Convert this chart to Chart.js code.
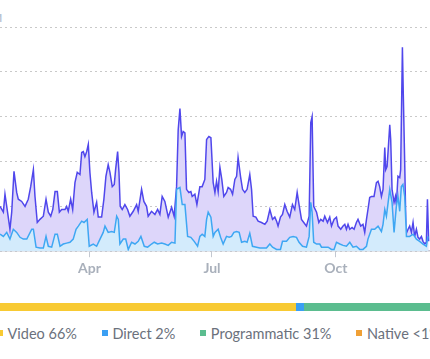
<!DOCTYPE html>
<html>
<head>
<meta charset="utf-8">
<script src="https://cdn.jsdelivr.net/npm/chart.js@4.4.1/dist/chart.umd.min.js"></script>
<style>
  html, body { margin: 0; padding: 0; background: #fff; overflow: hidden; }
  body { width: 430px; height: 359px; position: relative; font-family: Lato, "Open Sans", sans-serif; }
  #lineWrap { position: absolute; left: 0; top: 0; width: 430px; height: 280px; }
  #barWrap { position: absolute; left: -33px; top: 303px; width: 497px; height: 8px; }
  #legend { position: absolute; left: -3px; top: 324px; width: 600px; height: 18px;
            display: flex; justify-content: flex-start; align-items: center; }
  .item { display: flex; align-items: center; margin-right: 25px; font-size: 14.5px; color: #6b717c; white-space: nowrap; }
  .sw { width: 6px; height: 6px; margin-right: 4.5px; }
  #corner { position: absolute; left: -9px; top: 10px; font: bold 12px Lato, sans-serif; color: #b9c3d3; }
</style>
</head>
<body>
<div id="corner">M</div>
<div id="lineWrap"><canvas id="lineChart"></canvas></div>
<div id="barWrap"><canvas id="shareChart"></canvas></div>
<div id="legend"></div>
<script>
// day of year for each reading, and the value read at it
const totalDays = [
  23.5, 26.0, 27.2, 28.5, 30.9, 32.2, 33.9, 35.9, 37.1, 39.6,
  42.1, 44.5, 46.3, 48.3, 49.5, 51.2, 53.2, 55.7, 57.7, 59.4,
  61.2, 62.7, 64.4, 66.1, 67.6, 69.3, 71.8, 73.0, 74.2, 76.0,
  77.5, 79.2, 80.9, 82.9, 84.2, 85.4, 86.6, 87.9, 89.1, 90.3,
  91.6, 93.3, 95.3, 96.5, 99.0, 100.7, 102.2, 103.9, 105.2, 106.9,
  108.4, 109.4, 110.9, 111.9, 112.8, 114.3, 116.3, 118.3, 120.0, 122.5,
  125.0, 126.2, 128.7, 130.4, 132.4, 133.6, 136.1, 138.6, 140.6, 142.3,
  144.0, 146.0, 148.5, 151.0, 152.9, 154.7, 155.9, 157.2, 158.4, 159.6,
  160.9, 162.1, 163.8, 165.3, 166.3, 168.3, 169.8, 172.0, 173.7, 175.7,
  177.0, 178.7, 180.2, 181.9, 183.2, 184.4, 185.6, 186.9, 188.3, 189.8,
  191.8, 193.0, 194.8, 196.3, 198.0, 199.3, 200.4, 202.2, 203.7, 205.4,
  207.1, 209.1, 210.4, 211.6, 213.6, 215.3, 217.8, 220.3, 222.0, 224.0,
  226.0, 227.7, 229.0, 230.1, 231.9, 233.4, 235.1, 236.8, 238.8, 240.8,
  242.5, 244.3, 245.7, 247.5, 249.2, 251.2, 253.2, 254.4, 255.4, 256.6,
  258.7, 260.4, 261.8, 263.6, 264.8, 266.8, 268.5, 269.8, 271.7, 273.5,
  274.7, 276.7, 278.4, 279.7, 280.9, 282.1, 283.4, 285.1, 286.6, 288.3,
  289.5, 291.5, 293.2, 294.5, 295.8, 296.9, 298.2, 299.5, 301.4, 303.2,
  304.4, 305.6, 306.9, 308.1, 309.4, 310.1, 311.1, 311.8, 313.1, 313.8,
  314.8, 316.3, 317.3, 318.0, 319.2, 320.5, 321.2, 322.5, 323.2, 324.2,
  325.2, 326.7, 327.9, 329.2, 330.4, 331.6, 332.9, 334.1, 335.3, 336.6,
  337.8, 339.1, 340.3, 341.1, 342.0
];
const totalValues = [
  100, 87, 127, 100, 49, 87, 178, 131, 116, 111,
  100, 116, 144, 182, 122, 64, 71, 78, 116, 87,
  78, 93, 133, 133, 87, 93, 93, 100, 89, 116,
  93, 153, 176, 171, 220, 222, 211, 222, 238, 176,
  131, 87, 109, 76, 76, 116, 167, 193, 176, 144,
  149, 182, 222, 176, 100, 93, 104, 93, 78, 89,
  104, 89, 138, 111, 100, 78, 89, 82, 93, 82,
  122, 111, 76, 98, 78, 144, 271, 318, 256, 267,
  264, 138, 131, 133, 122, 127, 104, 144, 144, 160,
  249, 256, 253, 153, 131, 156, 133, 187, 160, 122,
  131, 142, 138, 127, 160, 167, 209, 167, 138, 131,
  138, 171, 138, 78, 76, 67, 64, 60, 67, 93,
  71, 76, 67, 56, 76, 82, 104, 89, 76, 104,
  93, 131, 104, 71, 64, 56, 78, 287, 300, 100,
  87, 64, 71, 67, 78, 64, 76, 56, 71, 76,
  56, 49, 56, 60, 49, 60, 49, 53, 49, 64,
  71, 56, 60, 42, 71, 93, 120, 122, 122, 153,
  156, 144, 122, 138, 231, 182, 189, 220, 282, 249,
  138, 109, 122, 104, 167, 164, 182, 455, 344, 198,
  38, 49, 56, 42, 64, 33, 49, 31, 27, 33,
  22, 16, 20, 116, 22
];
const directDays = [
  23.5, 26.0, 28.5, 30.9, 33.4, 35.9, 38.4, 40.8, 43.4, 47.1,
  48.3, 50.3, 53.2, 55.7, 57.7, 59.4, 61.9, 64.4, 66.1, 68.1,
  70.5, 73.0, 75.5, 77.9, 80.0, 81.7, 84.2, 85.9, 88.3, 89.8,
  92.8, 95.3, 97.8, 100.2, 101.5, 103.9, 106.5, 108.4, 110.2, 111.4,
  112.6, 115.1, 116.9, 118.8, 121.3, 123.8, 126.2, 128.2, 130.7, 133.2,
  136.1, 138.1, 140.6, 143.6, 146.0, 148.5, 151.0, 153.5, 154.7, 157.2,
  158.9, 160.9, 162.9, 165.3, 167.8, 170.3, 172.0, 173.7, 175.7, 177.0,
  178.2, 180.2, 181.9, 183.2, 185.6, 187.4, 189.3, 191.8, 193.8, 195.5,
  197.3, 199.3, 201.2, 203.0, 205.4, 207.1, 209.1, 211.1, 214.1, 216.6,
  219.0, 221.5, 224.0, 226.0, 229.0, 231.9, 233.4, 236.4, 238.8, 241.3,
  243.8, 245.7, 248.3, 251.2, 253.2, 254.4, 255.4, 256.6, 258.7, 261.1,
  262.4, 264.8, 267.3, 269.8, 271.7, 273.5, 276.0, 278.4, 280.9, 283.4,
  285.8, 288.3, 290.8, 293.2, 295.8, 296.9, 299.5, 301.9, 304.4, 306.9,
  308.1, 309.4, 310.6, 313.1, 314.8, 316.3, 318.0, 319.2, 320.5, 321.7,
  322.9, 324.2, 325.5, 327.9, 330.4, 332.9, 335.3, 337.8, 340.3, 341.5
];
const directValues = [
  38, 33, 42, 27, 49, 42, 31, 27, 27, 49,
  49, 9, 7, 7, 33, 11, 9, 38, 38, 11,
  16, 18, 20, 27, 49, 56, 67, 64, 71, 11,
  16, 11, 27, 42, 56, 42, 44, 42, 78, 71,
  16, 27, 27, 4, 20, 16, 22, 33, 11, 9,
  16, 20, 16, 18, 16, 13, 20, 18, 138, 142,
  104, 104, 33, 31, 22, 11, 33, 38, 33, 71,
  87, 76, 33, 42, 49, 31, 16, 33, 31, 33,
  42, 44, 42, 20, 22, 20, 40, 11, 9, 7,
  7, 7, 16, 9, 4, 4, 22, 22, 31, 33,
  31, 20, 11, 9, 33, 109, 87, 20, 16, 16,
  9, 9, 9, 4, 4, 20, 16, 13, 11, 20,
  9, 11, 4, 4, 11, 27, 49, 49, 56, 44,
  60, 93, 78, 138, 109, 42, 100, 122, 89, 144,
  149, 122, 33, 33, 38, 27, 22, 16, 11, 33
];

const tickDays = [90, 181, 273];
const tickLabels = ["Apr", "Jul", "Oct"];

const shareLabels = ["Video", "Direct", "Programmatic", "Native"];
const shareValues = [65.8, 1.6, 31.4, 0.7];
const shareColors = ["#f8ca33", "#3b9ff3", "#5bbd8f", "#f0a035"];

function toPoints(days, values) {
  return days.map((d, i) => ({ x: d, y: values[i] }));
}

const lineChart = new Chart(document.getElementById("lineChart"), {
  type: "line",
  data: {
    datasets: [
      {
        label: "Direct",
        data: toPoints(directDays, directValues),
        borderColor: "#3ea7f3",
        backgroundColor: "#d3ebfc",
        fill: "origin",
        borderWidth: 1.5,
        pointRadius: 0,
        tension: 0
      },
      {
        label: "Total",
        data: toPoints(totalDays, totalValues),
        borderColor: "#5047ec",
        backgroundColor: "#ddd6fa",
        fill: "origin",
        borderWidth: 1.5,
        pointRadius: 0,
        tension: 0
      }
    ]
  },
  options: {
    responsive: true,
    maintainAspectRatio: false,
    animation: false,
    layout: { padding: { top: 27, left: 0, right: 0, bottom: 0 } },
    plugins: { legend: { display: false }, tooltip: { enabled: false } },
    scales: {
      x: {
        type: "linear",
        min: 23.5,
        max: 343,
        afterBuildTicks: (scale) => {
          scale.ticks = tickDays.map((v) => ({ value: v }));
        },
        ticks: {
          autoSkip: false,
          maxRotation: 0,
          padding: 3,
          color: "#a9b0bb",
          font: { family: "Lato", size: 14, weight: "bold" },
          callback: (v, i) => tickLabels[i]
        },
        grid: { drawOnChartArea: false, tickLength: 6, color: "#c3c8d1" },
        border: { color: "#c3c8d1", width: 1.5 }
      },
      y: {
        min: 0,
        max: 500,
        ticks: { display: false, stepSize: 100 },
        grid: { drawTicks: false, color: "#c9c9c9" },
        border: { display: false, dash: [2, 3] }
      }
    }
  }
});

const shareChart = new Chart(document.getElementById("shareChart"), {
  type: "bar",
  data: {
    labels: [""],
    datasets: shareLabels.map((l, i) => ({
      label: l,
      data: [shareValues[i]],
      backgroundColor: shareColors[i],
      borderWidth: 0,
      barPercentage: 1,
      categoryPercentage: 1
    }))
  },
  options: {
    indexAxis: "y",
    responsive: true,
    maintainAspectRatio: false,
    animation: false,
    layout: { padding: 0 },
    plugins: { legend: { display: false }, tooltip: { enabled: false } },
    scales: {
      x: { stacked: true, display: false, min: 0, max: shareValues.reduce((a, b) => a + b, 0) },
      y: { stacked: true, display: false }
    }
  }
});

// legend under the bar
const legend = document.getElementById("legend");
shareLabels.forEach((l, i) => {
  const pct = shareValues[i] < 1 ? "<1%" : Math.round(shareValues[i]) + "%";
  const item = document.createElement("div");
  item.className = "item";
  item.innerHTML = `<span class="sw" style="background:${shareColors[i]}"></span>${l} ${pct}`;
  legend.appendChild(item);
});
</script>
</body>
</html>
